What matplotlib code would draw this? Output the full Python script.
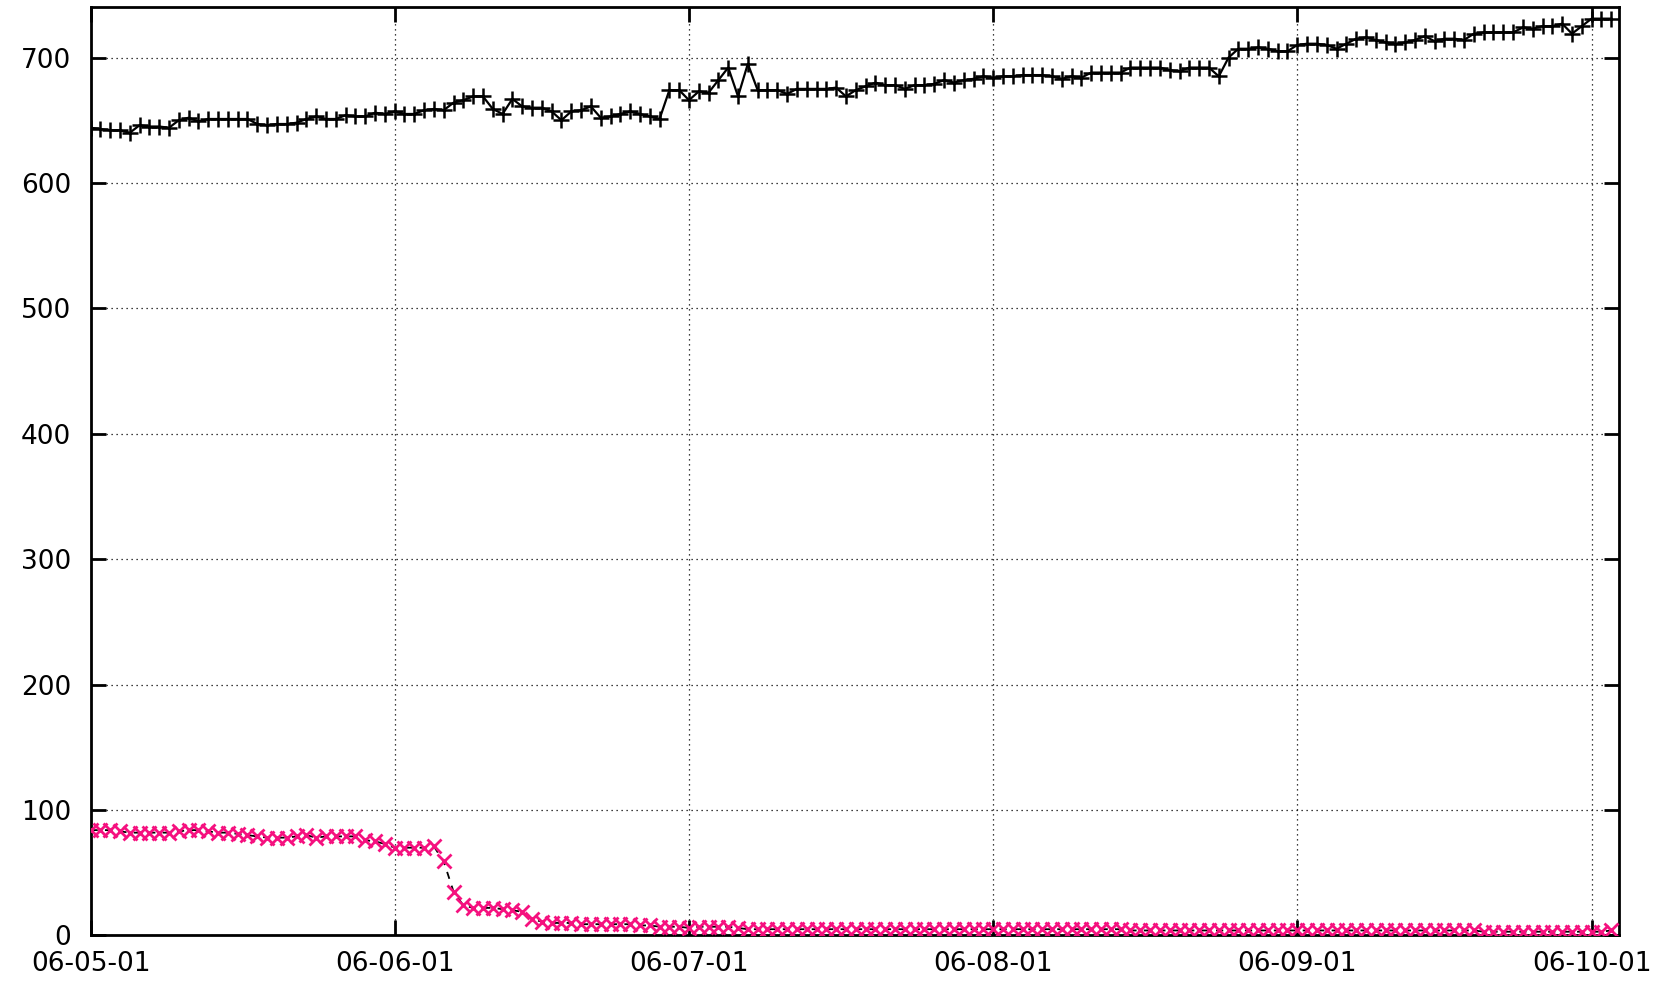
import matplotlib
matplotlib.use("Agg")
import matplotlib.pyplot as plt
import matplotlib.dates as mdates
import pandas as pd

plt.rcParams["font.family"] = ["DejaVu Sans"]

# Daily counts, starting 2006-05-01
start_date = "2006-05-01"

total_count = [
    644, 643, 642, 642, 640, 646, 645, 645, 644, 650,
    652, 649, 651, 651, 651, 651, 651, 647, 646, 647,
    647, 648, 651, 653, 651, 651, 654, 653, 653, 656,
    655, 657, 655, 655, 658, 659, 658, 664, 666, 669,
    669, 659, 655, 667, 661, 660, 660, 657, 650, 657,
    658, 661, 652, 653, 655, 657, 655, 653, 651, 674,
    674, 666, 673, 672, 682, 692, 669, 695, 674, 674,
    674, 671, 675, 675, 675, 675, 676, 669, 674, 677,
    680, 678, 678, 675, 678, 678, 679, 682, 680, 682,
    683, 685, 684, 685, 685, 686, 686, 686, 685, 683,
    685, 684, 688, 688, 688, 688, 692, 692, 692, 692,
    690, 689, 692, 692, 692, 685, 700, 707, 707, 708,
    707, 705, 705, 710, 711, 711, 710, 707, 711, 715,
    716, 714, 712, 711, 712, 714, 717, 713, 715, 715,
    714, 719, 720, 720, 720, 720, 724, 723, 725, 725,
    727, 719, 725, 731, 731, 731,
]

open_count = [
    84, 84, 84, 83, 82, 82, 82, 82, 82, 83,
    84, 84, 83, 82, 82, 81, 80, 79, 78, 78,
    78, 79, 80, 78, 79, 79, 79, 79, 76, 75,
    73, 70, 70, 70, 70, 71, 59, 35, 24, 22,
    22, 22, 21, 20, 19, 13, 11, 10, 10, 10,
    9, 9, 9, 9, 9, 9, 8, 8, 7, 7,
    7, 6, 7, 7, 7, 7, 6, 5, 5, 5,
    5, 5, 5, 5, 5, 5, 5, 5, 5, 5,
    5, 5, 5, 5, 5, 5, 5, 5, 5, 5,
    5, 5, 5, 5, 5, 5, 5, 5, 5, 5,
    5, 5, 5, 5, 5, 5, 4, 4, 4, 4,
    4, 4, 4, 4, 4, 4, 4, 4, 4, 4,
    4, 4, 4, 4, 4, 4, 4, 4, 4, 4,
    4, 4, 4, 4, 4, 4, 4, 4, 4, 4,
    4, 4, 3, 3, 3, 3, 3, 3, 3, 3,
    3, 3, 3, 3, 3, 4,
]

y_ticks = [0, 100, 200, 300, 400, 500, 600, 700]

dates = pd.date_range(start_date, periods=len(total_count), freq="D")

fig = plt.figure(figsize=(16.64, 9.81), dpi=100)
ax = fig.add_axes([0.0544, 0.0464, 0.9186, 0.9461])

ax.plot(dates, total_count, color="black", lw=1.6, marker="+", ms=11, mew=1.8, zorder=4)
ax.plot(dates, open_count, color="black", lw=1.3, ls=(0, (4, 4)), zorder=3)
ax.plot(dates, open_count, ls="none", marker="x", ms=10, mew=2.0, color="#F5117F", zorder=4)

ax.set_ylim(0, 740)
ax.set_yticks(y_ticks)
ax.set_xlim(dates[0], dates[0] + pd.Timedelta(days=155.8))
ax.xaxis.set_major_locator(mdates.MonthLocator())
ax.xaxis.set_major_formatter(mdates.DateFormatter("%y-%m-%d"))

ax.grid(True, ls=(0, (1, 3)), color="black", lw=0.9, zorder=1)
for s in ax.spines.values():
    s.set_linewidth(2)
ax.tick_params(direction="in", length=11, width=2, top=True, right=True, labelsize=19)
ax.tick_params(axis="y", pad=14)
ax.tick_params(axis="x", pad=11)

fig.savefig("out.png", dpi=100)
